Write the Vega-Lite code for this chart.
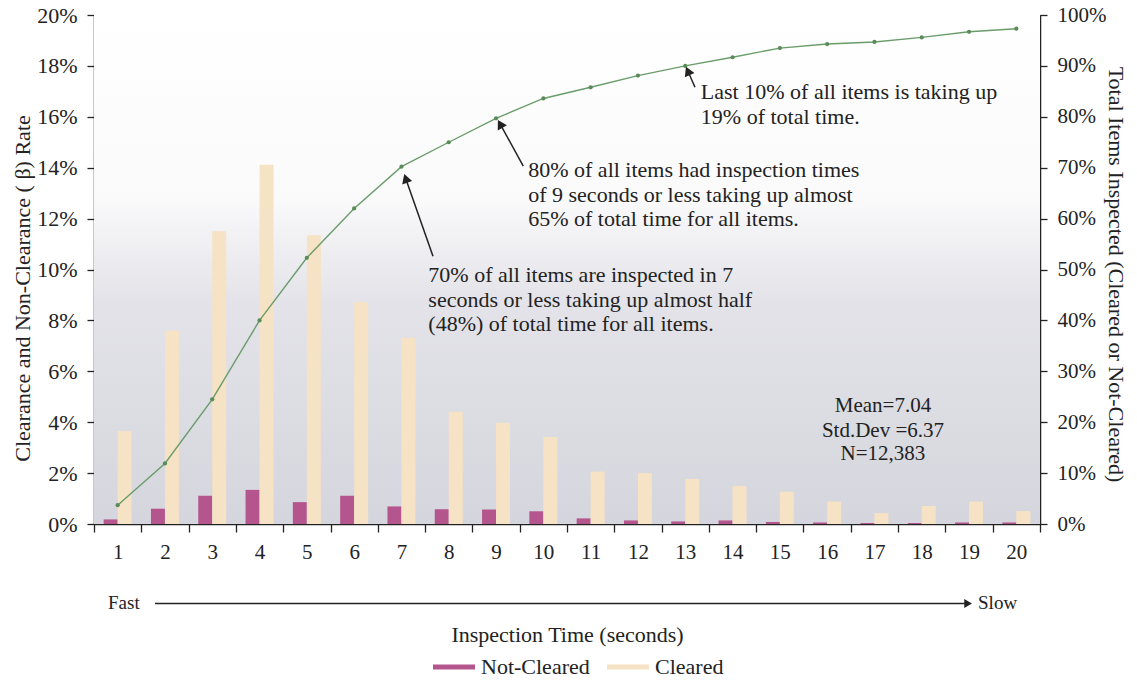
{
  "$schema": "https://vega.github.io/schema/vega-lite/v6.json",
  "width": 946,
  "height": 509,
  "autosize": {"type": "none"},
  "padding": {"left": 94, "top": 15, "right": 97, "bottom": 157},
  "background": "#ffffff",
  "config": {
    "font": "Liberation Serif",
    "view": {"stroke": "#444444", "strokeWidth": 1},
    "axis": {
      "labelFont": "Liberation Serif",
      "titleFont": "Liberation Serif",
      "labelColor": "#222222",
      "titleColor": "#222222",
      "labelFontSize": 21,
      "titleFontSize": 22,
      "titleFontWeight": "normal",
      "domainColor": "#222222",
      "domainWidth": 1.5,
      "tickColor": "#222222",
      "tickWidth": 1.3,
      "grid": false
    },
    "text": {"font": "Liberation Serif", "color": "#222222"}
  },
  "datasets": {
    "bars": [
      {"t": 1, "series": "Not-Cleared", "rate": 0.0018}, {"t": 1, "series": "Cleared", "rate": 0.0365},
      {"t": 2, "series": "Not-Cleared", "rate": 0.006}, {"t": 2, "series": "Cleared", "rate": 0.076},
      {"t": 3, "series": "Not-Cleared", "rate": 0.0111}, {"t": 3, "series": "Cleared", "rate": 0.115},
      {"t": 4, "series": "Not-Cleared", "rate": 0.0134}, {"t": 4, "series": "Cleared", "rate": 0.1412},
      {"t": 5, "series": "Not-Cleared", "rate": 0.0086}, {"t": 5, "series": "Cleared", "rate": 0.1135},
      {"t": 6, "series": "Not-Cleared", "rate": 0.0111}, {"t": 6, "series": "Cleared", "rate": 0.0872},
      {"t": 7, "series": "Not-Cleared", "rate": 0.0069}, {"t": 7, "series": "Cleared", "rate": 0.0732},
      {"t": 8, "series": "Not-Cleared", "rate": 0.0058}, {"t": 8, "series": "Cleared", "rate": 0.0441},
      {"t": 9, "series": "Not-Cleared", "rate": 0.0057}, {"t": 9, "series": "Cleared", "rate": 0.0398},
      {"t": 10, "series": "Not-Cleared", "rate": 0.005}, {"t": 10, "series": "Cleared", "rate": 0.0342},
      {"t": 11, "series": "Not-Cleared", "rate": 0.0022}, {"t": 11, "series": "Cleared", "rate": 0.0206},
      {"t": 12, "series": "Not-Cleared", "rate": 0.0014}, {"t": 12, "series": "Cleared", "rate": 0.02},
      {"t": 13, "series": "Not-Cleared", "rate": 0.001}, {"t": 13, "series": "Cleared", "rate": 0.0177},
      {"t": 14, "series": "Not-Cleared", "rate": 0.0014}, {"t": 14, "series": "Cleared", "rate": 0.0149},
      {"t": 15, "series": "Not-Cleared", "rate": 0.0008}, {"t": 15, "series": "Cleared", "rate": 0.0127},
      {"t": 16, "series": "Not-Cleared", "rate": 0.0006}, {"t": 16, "series": "Cleared", "rate": 0.0088},
      {"t": 17, "series": "Not-Cleared", "rate": 0.0004}, {"t": 17, "series": "Cleared", "rate": 0.0043},
      {"t": 18, "series": "Not-Cleared", "rate": 0.0004}, {"t": 18, "series": "Cleared", "rate": 0.0071},
      {"t": 19, "series": "Not-Cleared", "rate": 0.0006}, {"t": 19, "series": "Cleared", "rate": 0.0088},
      {"t": 20, "series": "Not-Cleared", "rate": 0.0006}, {"t": 20, "series": "Cleared", "rate": 0.0051}
    ],
    "cum": [
      {"t": 1, "share": 0.037}, {"t": 2, "share": 0.119}, {"t": 3, "share": 0.245}, {"t": 4, "share": 0.4},
      {"t": 5, "share": 0.523}, {"t": 6, "share": 0.62}, {"t": 7, "share": 0.702}, {"t": 8, "share": 0.75},
      {"t": 9, "share": 0.797}, {"t": 10, "share": 0.836}, {"t": 11, "share": 0.858}, {"t": 12, "share": 0.881},
      {"t": 13, "share": 0.9}, {"t": 14, "share": 0.917}, {"t": 15, "share": 0.935}, {"t": 16, "share": 0.943},
      {"t": 17, "share": 0.947}, {"t": 18, "share": 0.956}, {"t": 19, "share": 0.967}, {"t": 20, "share": 0.973}
    ]
  },
  "layer": [
    {
      "data": {"values": [{"ax": 0, "ax2": 20, "ay": 0, "ay2": 1}]},
      "mark": {
        "type": "rect",
        "fill": {
          "gradient": "linear", "x1": 0, "y1": 0, "x2": 0, "y2": 1,
          "stops": [
            {"offset": 0, "color": "#ffffff"},
            {"offset": 0.36, "color": "#fafafb"},
            {"offset": 0.56, "color": "#e3e3e9"},
            {"offset": 1, "color": "#d5d5dd"}
          ]
        }
      },
      "encoding": {
        "x": {"field": "ax", "type": "quantitative", "scale": {"domain": [0, 20], "nice": false, "zero": false}, "axis": null},
        "x2": {"field": "ax2"},
        "y": {"field": "ay", "type": "quantitative", "scale": {"domain": [0, 1], "nice": false, "zero": false}, "axis": null},
        "y2": {"field": "ay2"}
      }
    },
    {
      "data": {"name": "bars"},
      "mark": {"type": "bar"},
      "encoding": {
        "x": {
          "field": "t", "type": "ordinal",
          "scale": {"type": "band", "paddingInner": 0, "paddingOuter": 0},
          "axis": {"orient": "bottom", "title": "Inspection Time (seconds)", "labelAngle": 0, "tickBand": "extent", "tickSize": 8, "labelPadding": 9, "titlePadding": 62}
        },
        "xOffset": {"field": "series", "type": "nominal", "sort": ["Not-Cleared", "Cleared"], "scale": {"paddingInner": 0, "paddingOuter": 0.69}},
        "y": {
          "field": "rate", "type": "quantitative",
          "scale": {"domain": [0, 0.2], "nice": false},
          "axis": {"orient": "left", "format": ".0%", "values": [0, 0.02, 0.04, 0.06, 0.08, 0.1, 0.12, 0.14, 0.16, 0.18, 0.2], "title": "Clearance and Non-Clearance ( β) Rate", "labelFontSize": 22, "tickSize": 7, "labelPadding": 10, "titlePadding": 2, "titleY": 273}
        },
        "color": {
          "field": "series", "type": "nominal",
          "scale": {"domain": ["Not-Cleared", "Cleared"], "range": ["#b4558e", "#f6e2c4"]},
          "legend": {
            "orient": "none", "legendX": 339, "legendY": 631, "direction": "horizontal", "title": null, "padding": 0,
            "symbolType": "M-1,-0.12L1,-0.12L1,0.12L-1,0.12Z", "symbolSize": 1764, "symbolStrokeWidth": 0,
            "labelFontSize": 22, "labelFont": "Liberation Serif", "labelColor": "#222222",
            "columnPadding": 17, "labelOffset": 6
          }
        }
      }
    },
    {
      "data": {"name": "cum"},
      "encoding": {
        "x": {"field": "t", "type": "ordinal", "scale": {"type": "point", "padding": 0.5}, "axis": null},
        "y": {
          "field": "share", "type": "quantitative",
          "scale": {"domain": [0, 1], "nice": false},
          "axis": {"orient": "right", "format": ".0%", "values": [0, 0.1, 0.2, 0.3, 0.4, 0.5, 0.6, 0.7, 0.8, 0.9, 1], "title": "Total Items Inspected (Cleared or Not-Cleared)", "tickSize": 7, "labelPadding": 10, "titlePadding": -2, "titleY": 259}
        }
      },
      "layer": [
        {"mark": {"type": "line", "color": "#6a9c6a", "strokeWidth": 1.4}},
        {"mark": {"type": "point", "filled": true, "color": "#5a8c5a", "size": 18, "opacity": 1}}
      ]
    },
    {
      "encoding": {
        "x": {"field": "ax", "type": "quantitative", "scale": {"domain": [0, 20], "nice": false, "zero": false}, "axis": null},
        "y": {"field": "ay", "type": "quantitative", "scale": {"domain": [0, 1], "nice": false, "zero": false}, "axis": null}
      },
      "layer": [
        {
          "data": {"values": [
            {"ax": 7.068, "ay": 0.49, "txt": "70% of all items are inspected in 7"},
            {"ax": 7.068, "ay": 0.441, "txt": "seconds or less taking up almost half"},
            {"ax": 7.068, "ay": 0.392, "txt": "(48%) of total time for all items."},
            {"ax": 9.18, "ay": 0.696, "txt": "80% of all items had inspection times"},
            {"ax": 9.18, "ay": 0.647, "txt": "of 9 seconds or less taking up almost"},
            {"ax": 9.18, "ay": 0.6, "txt": "65% of total time for all items."},
            {"ax": 12.83, "ay": 0.848, "txt": "Last 10% of all items is taking up"},
            {"ax": 12.83, "ay": 0.8, "txt": "19% of total time."}
          ]},
          "mark": {"type": "text", "align": "left", "baseline": "middle", "fontSize": 22, "font": "Liberation Serif", "color": "#222222"},
          "encoding": {"text": {"field": "txt"}}
        },
        {
          "data": {"values": [
            {"ax": 16.68, "ay": 0.231, "txt": "Mean=7.04"},
            {"ax": 16.68, "ay": 0.182, "txt": "Std.Dev =6.37"},
            {"ax": 16.68, "ay": 0.137, "txt": "N=12,383"}
          ]},
          "mark": {"type": "text", "align": "center", "baseline": "middle", "fontSize": 21, "font": "Liberation Serif", "color": "#222222"},
          "encoding": {"text": {"field": "txt"}}
        },
        {
          "data": {"values": [
            {"ax": 0.296, "ay": -0.156, "txt": "Fast"},
            {"ax": 18.69, "ay": -0.156, "txt": "Slow"}
          ]},
          "mark": {"type": "text", "align": "left", "baseline": "middle", "fontSize": 19, "font": "Liberation Serif", "color": "#222222"},
          "encoding": {"text": {"field": "txt"}}
        },
        {
          "data": {"values": [
            {"ax": 7.167, "ay": 0.526, "ax2": 6.59, "ay2": 0.679},
            {"ax": 9.076, "ay": 0.703, "ax2": 8.586, "ay2": 0.786},
            {"ax": 12.706, "ay": 0.858, "ax2": 12.554, "ay2": 0.89},
            {"ax": 1.29, "ay": -0.156, "ax2": 18.41, "ay2": -0.156}
          ]},
          "mark": {"type": "rule", "color": "#222222", "strokeWidth": 1.5},
          "encoding": {"x2": {"field": "ax2"}, "y2": {"field": "ay2"}}
        },
        {
          "data": {"values": [{"ax": 6.59, "ay": 0.679}]},
          "mark": {"type": "point", "shape": "triangle-up", "filled": true, "color": "#222222", "opacity": 1, "size": 110, "angle": 341}
        },
        {
          "data": {"values": [{"ax": 8.586, "ay": 0.786}]},
          "mark": {"type": "point", "shape": "triangle-up", "filled": true, "color": "#222222", "opacity": 1, "size": 110, "angle": 331}
        },
        {
          "data": {"values": [{"ax": 12.554, "ay": 0.89}]},
          "mark": {"type": "point", "shape": "triangle-up", "filled": true, "color": "#222222", "opacity": 1, "size": 110, "angle": 336}
        },
        {
          "data": {"values": [{"ax": 18.48, "ay": -0.156}]},
          "mark": {"type": "point", "shape": "triangle-right", "filled": true, "color": "#222222", "opacity": 1, "size": 80}
        }
      ]
    }
  ],
  "resolve": {"scale": {"x": "independent", "y": "independent", "color": "independent"}}
}
